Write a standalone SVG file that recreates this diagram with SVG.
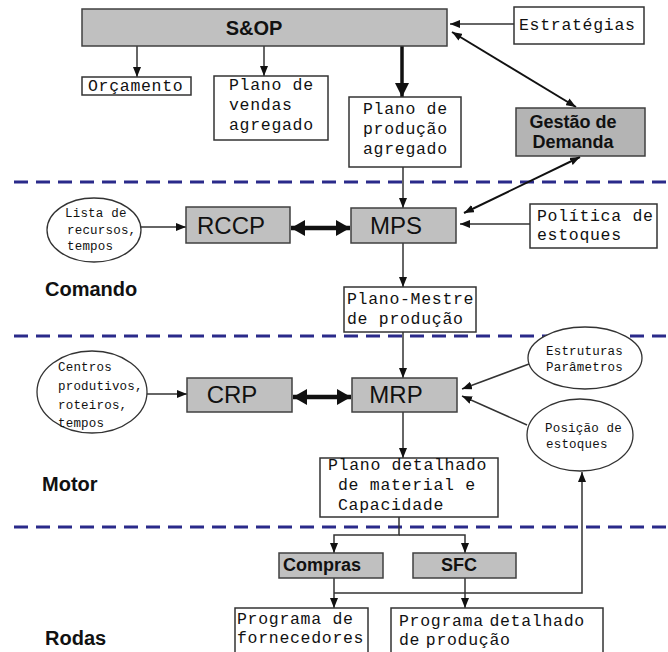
<svg xmlns="http://www.w3.org/2000/svg" width="668" height="652" viewBox="0 0 668 652">
<defs>
<style>
.bg{fill:#ffffff}
.gbox{fill:#c0c0c0;stroke:#404040;stroke-width:1.5}
.wbox{fill:#ffffff;stroke:#333333;stroke-width:1.5}
.ell{fill:#ffffff;stroke:#333333;stroke-width:1.3}
.mono{font-family:"Liberation Mono","Courier New",monospace;font-size:16.5px;letter-spacing:0.7px;fill:#111}
.hand{font-family:"Liberation Mono","Courier New",monospace;font-size:12.5px;letter-spacing:0.2px;fill:#111}
.big{font-family:"Liberation Sans",Arial,sans-serif;font-size:24px;fill:#111;text-anchor:middle}
.bold{font-family:"Liberation Sans",Arial,sans-serif;font-weight:bold;fill:#111}
.sec{font-family:"Liberation Sans",Arial,sans-serif;font-weight:bold;font-size:20px;fill:#111}
.dash{stroke:#2a2a8a;stroke-width:3;stroke-dasharray:14 8;fill:none}
.c{stroke:#333333;stroke-width:1.5;fill:none}
.cb{stroke:#111111;stroke-width:2;fill:none}
.ct{stroke:#111111;stroke-width:3.5;fill:none}
.cf{stroke:#111111;stroke-width:4.5;fill:none}
</style>
<marker id="ah" markerUnits="userSpaceOnUse" viewBox="0 0 10 8" markerWidth="10" markerHeight="8" refX="10" refY="4" orient="auto-start-reverse">
<path d="M0,0 L10,4 L0,8 Z" fill="#111"/>
</marker>
<marker id="ahBig" markerUnits="userSpaceOnUse" viewBox="0 0 14 14" markerWidth="14" markerHeight="14" refX="14" refY="7" orient="auto-start-reverse">
<path d="M0,0 L14,7 L0,14 Z" fill="#111"/>
</marker>
<marker id="ahFat" markerUnits="userSpaceOnUse" viewBox="0 0 14 16" markerWidth="14" markerHeight="16" refX="14" refY="8" orient="auto-start-reverse">
<path d="M0,0 L14,8 L0,16 Z" fill="#111"/>
</marker>
</defs>
<rect class="bg" x="0" y="0" width="668" height="652"/>

<g id="dividers">
<line class="dash" x1="14" y1="182" x2="668" y2="182"/>
<line class="dash" x1="14" y1="336" x2="668" y2="336"/>
<line class="dash" x1="14" y1="527" x2="668" y2="527"/>
</g>

<g id="connectors">
<line class="c" x1="137" y1="46" x2="137" y2="77" marker-end="url(#ah)"/>
<line class="c" x1="264" y1="46" x2="264" y2="76" marker-end="url(#ah)"/>
<line class="ct" x1="402" y1="46" x2="402" y2="97" marker-end="url(#ahBig)"/>
<line class="c" x1="514" y1="24" x2="450" y2="24" marker-end="url(#ah)"/>
<line class="cb" x1="452" y1="32" x2="576" y2="107" marker-start="url(#ah)" marker-end="url(#ah)"/>
<line class="c" x1="403" y1="167" x2="403" y2="208" marker-end="url(#ah)"/>
<line class="cb" x1="580" y1="157" x2="464" y2="213" marker-start="url(#ah)" marker-end="url(#ah)"/>
<line class="c" x1="530" y1="224" x2="460" y2="224" marker-end="url(#ah)"/>
<line class="c" x1="141" y1="227" x2="186" y2="227" marker-end="url(#ah)"/>
<line class="cf" x1="291" y1="228" x2="350" y2="228" marker-start="url(#ahFat)" marker-end="url(#ahFat)"/>
<line class="c" x1="403" y1="243" x2="403" y2="287" marker-end="url(#ah)"/>
<line class="c" x1="403" y1="332" x2="403" y2="378" marker-end="url(#ah)"/>
<line class="c" x1="147" y1="394" x2="187" y2="394" marker-end="url(#ah)"/>
<line class="cf" x1="293" y1="397" x2="351" y2="397" marker-start="url(#ahFat)" marker-end="url(#ahFat)"/>
<line class="c" x1="529" y1="364" x2="462" y2="389" marker-end="url(#ah)"/>
<line class="c" x1="527" y1="425" x2="462" y2="396" marker-end="url(#ah)"/>
<line class="c" x1="403" y1="412" x2="403" y2="458" marker-end="url(#ah)"/>
<path class="c" d="M399,517 V535 H334 V553" marker-end="url(#ah)"/>
<path class="c" d="M399,535 H465 V553" marker-end="url(#ah)"/>
<path class="c" d="M334,578 V608" marker-end="url(#ah)"/>
<path class="c" d="M465,578 V608" marker-end="url(#ah)"/>
<path class="c" d="M334,593 H582 V472" marker-end="url(#ah)"/>
</g>

<g id="sop">
<rect class="gbox" x="82" y="9" width="365" height="37"/>
<text class="bold" x="254" y="35" font-size="20" text-anchor="middle">S&amp;OP</text>
</g>
<g id="estrategias">
<rect class="wbox" x="514" y="7" width="130" height="37"/>
<text class="mono" x="519" y="30">Estratégias</text>
</g>
<g id="orcamento">
<rect class="wbox" x="82" y="77" width="109" height="18"/>
<text class="mono" x="88" y="91">Orçamento</text>
</g>
<g id="plano-vendas">
<rect class="wbox" x="214" y="76" width="114" height="64"/>
<text class="mono" x="229" y="90">Plano de</text>
<text class="mono" x="229" y="110">vendas</text>
<text class="mono" x="229" y="130">agregado</text>
</g>
<g id="plano-producao">
<rect class="wbox" x="349" y="97" width="112" height="70"/>
<text class="mono" x="363" y="114">Plano de</text>
<text class="mono" x="363" y="134">produção</text>
<text class="mono" x="363" y="154">agregado</text>
</g>
<g id="gestao">
<rect class="gbox" x="516" y="108" width="129" height="48" style="fill:#b4b4b4"/>
<text class="bold" x="573" y="128" font-size="18" text-anchor="middle">Gestão de</text>
<text class="bold" x="573" y="148" font-size="18" text-anchor="middle">Demanda</text>
</g>

<g id="lista">
<ellipse class="ell" cx="94" cy="230" rx="47" ry="32"/>
<text class="hand" x="65" y="217">Lista de</text>
<text class="hand" x="67" y="234">recursos,</text>
<text class="hand" x="67" y="250">tempos</text>
</g>
<g id="rccp">
<rect class="gbox" x="186" y="207" width="104" height="36"/>
<text class="big" x="231" y="234">RCCP</text>
</g>
<g id="mps">
<rect class="gbox" x="351" y="208" width="105" height="35"/>
<text class="big" x="396" y="234">MPS</text>
</g>
<g id="politica">
<rect class="wbox" x="530" y="204" width="127" height="44"/>
<text class="mono" x="537" y="221">Política de</text>
<text class="mono" x="537" y="240">estoques</text>
</g>
<text id="comando" class="sec" x="45" y="296">Comando</text>
<g id="plano-mestre">
<rect class="wbox" x="344" y="287" width="132" height="45"/>
<text class="mono" x="347" y="304">Plano-Mestre</text>
<text class="mono" x="347" y="324">de produção</text>
</g>

<g id="centros">
<ellipse class="ell" cx="92" cy="392" rx="55" ry="41"/>
<text class="hand" x="58" y="371">Centros</text>
<text class="hand" x="58" y="390">produtivos,</text>
<text class="hand" x="58" y="409">roteiros,</text>
<text class="hand" x="58" y="427">tempos</text>
</g>
<g id="crp">
<rect class="gbox" x="187" y="378" width="105" height="34"/>
<text class="big" x="232" y="403">CRP</text>
</g>
<g id="mrp">
<rect class="gbox" x="352" y="378" width="105" height="34"/>
<text class="big" x="396" y="403">MRP</text>
</g>
<g id="estruturas">
<ellipse class="ell" cx="585" cy="358" rx="57" ry="31"/>
<text class="hand" x="546" y="355">Estruturas</text>
<text class="hand" x="546" y="371">Parâmetros</text>
</g>
<g id="posicao">
<ellipse class="ell" cx="580" cy="435" rx="53" ry="36"/>
<text class="hand" x="545" y="432">Posição de</text>
<text class="hand" x="546" y="448">estoques</text>
</g>
<g id="plano-detalhado">
<rect class="wbox" x="320" y="458" width="178" height="59"/>
<text class="mono" x="328" y="470">Plano detalhado</text>
<text class="mono" x="338" y="490">de material e</text>
<text class="mono" x="338" y="510">Capacidade</text>
</g>
<text id="motor" class="sec" x="42" y="491">Motor</text>

<g id="compras">
<rect class="gbox" x="279" y="553" width="104" height="25"/>
<text class="bold" x="322" y="571" font-size="18" text-anchor="middle">Compras</text>
</g>
<g id="sfc">
<rect class="gbox" x="413" y="553" width="103" height="25"/>
<text class="bold" x="459" y="571" font-size="18" text-anchor="middle">SFC</text>
</g>
<g id="prog-fornecedores">
<rect class="wbox" x="235" y="608" width="133" height="50"/>
<text class="mono" x="237" y="624">Programa de</text>
<text class="mono" x="237" y="643">fornecedores</text>
</g>
<g id="prog-detalhado">
<rect class="wbox" x="391" y="608" width="212" height="50"/>
<text class="mono" x="399" y="626" word-spacing="-5">Programa detalhado</text>
<text class="mono" x="399" y="645" word-spacing="-5">de produção</text>
</g>
<text id="rodas" class="sec" x="45" y="645">Rodas</text>
</svg>
